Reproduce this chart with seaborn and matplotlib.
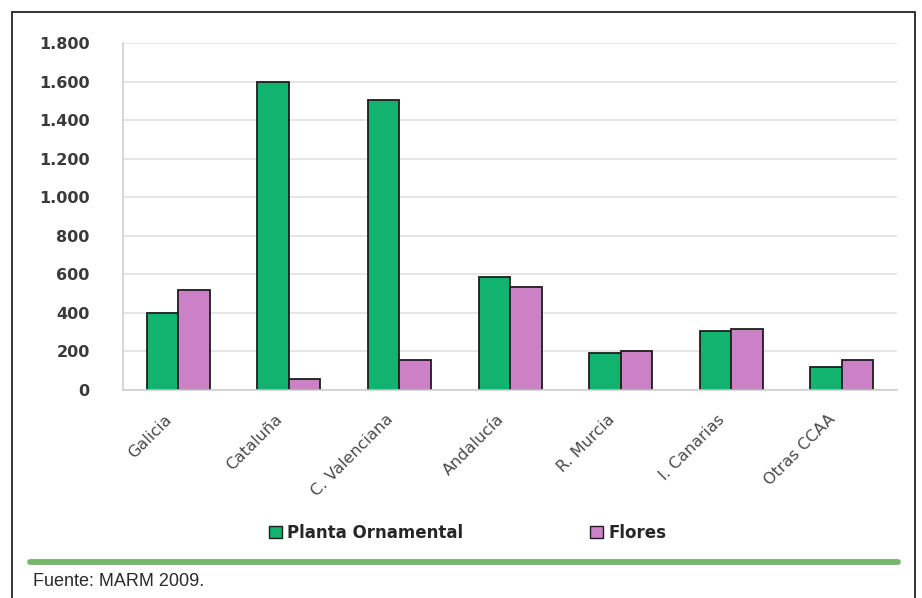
import matplotlib
matplotlib.use("Agg")
import matplotlib.pyplot as plt
import matplotlib.transforms as mtransforms
from matplotlib.lines import Line2D
from matplotlib.patches import Patch
import seaborn as sns
import pandas as pd

# Superficie por comunidad autónoma
regiones = ["Galicia", "Cataluña", "C. Valenciana", "Andalucía",
            "R. Murcia", "I. Canarias", "Otras CCAA"]
planta_ornamental = [400, 1600, 1505, 585, 190, 305, 118]
flores = [518, 58, 155, 535, 202, 315, 157]
series = ["Planta Ornamental", "Flores"]
yticks = [0, 200, 400, 600, 800, 1000, 1200, 1400, 1600, 1800]
ytick_labels = ["0", "200", "400", "600", "800", "1.000", "1.200",
                "1.400", "1.600", "1.800"]

colores = {"Planta Ornamental": "#12B36E", "Flores": "#CC80C6"}

df = pd.DataFrame({
    "region": regiones * 2,
    "serie": [series[0]] * len(regiones) + [series[1]] * len(regiones),
    "valor": planta_ornamental + flores,
})

sns.set_style("white")
plt.rcParams["font.family"] = ["DejaVu Sans"]

fig = plt.figure(figsize=(9.22, 5.98), dpi=100)
ax = fig.add_axes([0.1334, 0.3478, 0.8396, 0.5803])

sns.barplot(data=df, x="region", y="valor", hue="serie", order=regiones,
            hue_order=series, palette=colores, width=0.57, gap=0,
            edgecolor="#1e1e1e", linewidth=1.3, saturation=1,
            legend=False, ax=ax)

ax.set_xlim(-0.5, len(regiones) - 0.5)
ax.set_ylim(0, 1800)
ax.set_yticks(yticks)
ax.set_yticklabels(ytick_labels, fontsize=11.5, color="#3a3a3a",
                   fontweight="bold")
ax.tick_params(axis="y", length=0, pad=24)
ax.tick_params(axis="x", length=0, pad=12)
ax.set_xticks(range(len(regiones)))
ax.set_xticklabels(regiones, rotation=45, ha="right", rotation_mode="anchor",
                   fontsize=11.5, color="#4a4a4a")
# desplaza las etiquetas inclinadas un poco a la izquierda y hacia abajo
shift = mtransforms.ScaledTranslation(-14 / 100, -5 / 100, fig.dpi_scale_trans)
for lbl in ax.get_xticklabels():
    lbl.set_transform(lbl.get_transform() + shift)
ax.set_xlabel("")
ax.set_ylabel("")
ax.yaxis.grid(True, color="#e4e4e4", linewidth=1.3)
ax.set_axisbelow(True)
for side in ("top", "right"):
    ax.spines[side].set_visible(False)
for side in ("left", "bottom"):
    ax.spines[side].set_color("#cfcfcf")
    ax.spines[side].set_linewidth(1.2)

# Leyenda inferior
handles = [Patch(facecolor=colores[s], edgecolor="#1e1e1e", linewidth=1.0)
           for s in series]
fig.legend(handles, series, loc="center", bbox_to_anchor=(0.507, 0.109),
           ncol=2, frameon=False, handlelength=0.8, handleheight=0.8,
           handletextpad=0.3, columnspacing=7.6,
           prop={"weight": "bold", "size": 12})

# Marco del recuadro
frame_kw = dict(color="#333333", linewidth=1.4, transform=fig.transFigure)
fig.add_artist(Line2D([12 / 922, 915 / 922], [1 - 12 / 598, 1 - 12 / 598], **frame_kw))
fig.add_artist(Line2D([12 / 922, 12 / 922], [1 - 12 / 598, 0], **frame_kw))
fig.add_artist(Line2D([915 / 922, 915 / 922], [1 - 12 / 598, 0], **frame_kw))

# Línea verde separadora
fig.add_artist(Line2D([30 / 922, 898 / 922], [1 - 562 / 598, 1 - 562 / 598],
                      color="#74B76A", linewidth=4.2, transform=fig.transFigure))

fig.text(33 / 922, 1 - 582 / 598, "Fuente: MARM 2009.", fontsize=13,
         family="Liberation Sans", color="#2a2a2a", va="center", ha="left")

fig.savefig("out.png", dpi=100)
